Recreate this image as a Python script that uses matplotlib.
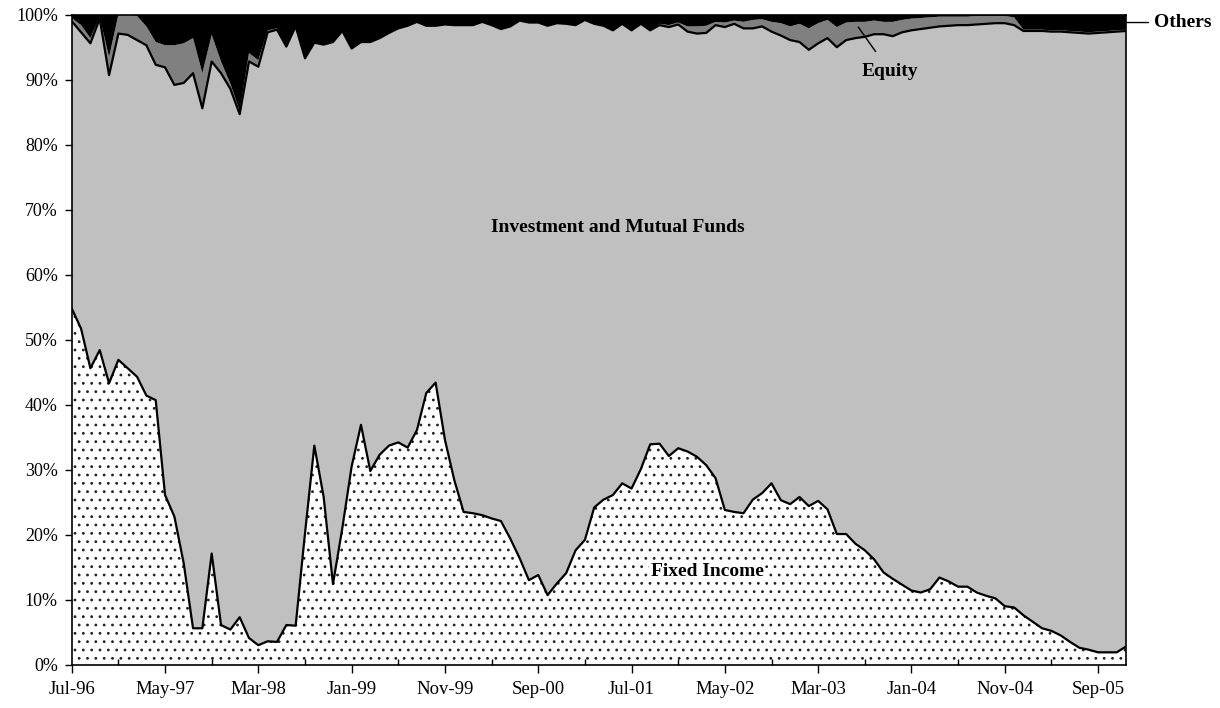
import matplotlib
matplotlib.use("Agg")
import matplotlib.pyplot as plt
from matplotlib.ticker import MultipleLocator, FuncFormatter
import numpy as np
import pandas as pd

# monthly shares (%), Jul-96 .. Dec-05
fixed_income = [
    54.8, 51.7, 45.6, 48.4, 43.3, 46.9, 45.6, 44.3, 41.4, 40.7,
    26.1, 22.8, 15.6, 5.6, 5.6, 17.1, 6.1, 5.4, 7.3, 4.1,
    3.0, 3.6, 3.5, 6.1, 6.0, 20.2, 33.7, 25.8, 12.4, 21.0,
    30.5, 36.9, 29.8, 32.3, 33.7, 34.2, 33.4, 36.1, 41.8, 43.4,
    34.6, 28.4, 23.5, 23.3, 23.0, 22.5, 22.1, 19.4, 16.4, 13.0,
    13.8, 10.7, 12.5, 14.1, 17.6, 19.2, 24.2, 25.4, 26.1, 27.9,
    27.1, 30.1, 33.9, 34.0, 32.1, 33.3, 32.8, 32.0, 30.7, 28.7,
    23.8, 23.5, 23.3, 25.4, 26.4, 27.9, 25.3, 24.7, 25.8, 24.4,
    25.2, 23.9, 20.1, 20.1, 18.6, 17.6, 16.2, 14.2, 13.2, 12.3,
    11.4, 11.1, 11.6, 13.4, 12.8, 12.0, 12.0, 11.1, 10.6, 10.2,
    9.0, 8.8, 7.6, 6.6, 5.6, 5.2, 4.5, 3.5, 2.6, 2.3,
    1.9, 1.9, 1.9, 2.8,
]
mutual_funds = [
    44.2, 45.6, 50.0, 51.0, 47.4, 50.2, 51.3, 51.8, 53.9, 51.6,
    65.8, 66.4, 73.9, 85.4, 80.0, 75.7, 84.9, 83.2, 77.4, 88.7,
    89.0, 93.7, 94.2, 89.0, 92.2, 73.1, 62.0, 69.6, 83.4, 76.5,
    64.3, 58.9, 66.0, 64.1, 63.5, 63.7, 64.9, 62.8, 56.5, 54.9,
    63.9, 70.0, 74.9, 75.1, 75.9, 75.9, 75.7, 78.8, 82.7, 85.8,
    85.0, 87.6, 86.2, 84.5, 80.8, 80.0, 74.4, 72.9, 71.5, 70.7,
    70.5, 68.5, 63.7, 64.4, 66.0, 65.2, 64.6, 65.1, 66.5, 69.7,
    74.3, 75.1, 74.6, 72.5, 71.8, 69.5, 71.5, 71.4, 70.0, 70.2,
    70.4, 72.5, 74.9, 76.0, 77.8, 79.0, 80.8, 82.8, 83.5, 85.0,
    86.2, 86.7, 86.4, 84.8, 85.5, 86.4, 86.4, 87.4, 88.0, 88.5,
    89.7, 89.6, 89.9, 90.9, 91.9, 92.2, 92.9, 93.8, 94.6, 94.8,
    95.3, 95.4, 95.5, 94.7,
]
equity = [
    0.5, 1.1, 0.8, 0.2, 2.8, 2.9, 3.1, 3.7, 2.9, 3.5,
    3.4, 6.1, 6.1, 5.4, 5.4, 4.1, 1.8, 0.8, 0.5, 1.3,
    1.0, 0.3, 0.2, 0.0, 0.0, 0.0, 0.0, 0.0, 0.0, 0.0,
    0.0, 0.0, 0.0, 0.0, 0.0, 0.0, 0.0, 0.0, 0.0, 0.0,
    0.0, 0.0, 0.0, 0.0, 0.0, 0.0, 0.0, 0.0, 0.0, 0.0,
    0.0, 0.0, 0.0, 0.0, 0.0, 0.0, 0.0, 0.0, 0.0, 0.0,
    0.0, 0.0, 0.0, 0.2, 0.3, 0.3, 0.8, 1.1, 1.1, 0.5,
    0.7, 0.5, 1.0, 1.3, 1.1, 1.5, 1.9, 2.1, 2.8, 3.3,
    3.1, 2.8, 3.1, 2.7, 2.5, 2.3, 2.1, 1.9, 2.2, 1.9,
    1.8, 1.7, 1.6, 1.5, 1.4, 1.3, 1.3, 1.3, 1.2, 1.1,
    1.1, 1.2, 0.2, 0.2, 0.2, 0.2, 0.2, 0.2, 0.2, 0.2,
    0.2, 0.2, 0.2, 0.2,
]
others = [
    0.5, 1.6, 3.6, 0.4, 6.5, 0.0, 0.0, 0.2, 1.8, 4.2,
    4.7, 4.7, 4.4, 3.6, 9.0, 3.1, 7.2, 10.6, 14.8, 5.9,
    7.0, 2.4, 2.1, 4.9, 1.8, 6.7, 4.3, 4.6, 4.2, 2.5,
    5.2, 4.2, 4.2, 3.6, 2.8, 2.1, 1.7, 1.1, 1.7, 1.7,
    1.5, 1.6, 1.6, 1.6, 1.1, 1.6, 2.2, 1.8, 0.9, 1.2,
    1.2, 1.7, 1.3, 1.4, 1.6, 0.8, 1.4, 1.7, 2.4, 1.4,
    2.4, 1.4, 2.4, 1.4, 1.6, 1.2, 1.8, 1.8, 1.7, 1.1,
    1.2, 0.9, 1.1, 0.8, 0.7, 1.1, 1.3, 1.8, 1.4, 2.1,
    1.3, 0.8, 1.9, 1.2, 1.1, 1.1, 0.9, 1.1, 1.1, 0.8,
    0.6, 0.5, 0.4, 0.3, 0.3, 0.3, 0.3, 0.2, 0.2, 0.2,
    0.2, 0.4, 2.3, 2.3, 2.3, 2.4, 2.4, 2.5, 2.6, 2.7,
    2.6, 2.5, 2.4, 2.3,
]

months = pd.date_range("1996-07-01", periods=len(fixed_income), freq="MS")
month_labels = [d.strftime("%b-%y") for d in months]

plt.rcParams["font.family"] = ["Liberation Serif", "DejaVu Serif"]
plt.rcParams["hatch.linewidth"] = 0.8
plt.rcParams["hatch.color"] = "#222222"

fig = plt.figure(figsize=(12.2, 7.08), dpi=100)
ax = fig.add_axes([0.0588, 0.0612, 0.8642, 0.9180])

x = np.arange(len(months))
fi = np.array(fixed_income)
top_mf = fi + np.array(mutual_funds)
top_eq = top_mf + np.array(equity)
top_ot = top_eq + np.array(others)

ax.fill_between(x, 0, fi, facecolor="white", edgecolor="none", hatch="..", lw=0)
ax.fill_between(x, fi, top_mf, facecolor="#c0c0c0", edgecolor="none", lw=0)
ax.fill_between(x, top_mf, top_eq, facecolor="#808080", edgecolor="none", lw=0)
ax.fill_between(x, top_eq, top_ot, facecolor="black", edgecolor="none", lw=0)
ax.plot(x, fi, color="black", lw=1.6)
ax.plot(x, top_mf, color="black", lw=1.6)

ax.set_xlim(0, len(months) - 1)
ax.set_ylim(0, 100)

ax.yaxis.set_major_locator(MultipleLocator(10))
ax.yaxis.set_major_formatter(FuncFormatter(lambda v, p: f"{v:.0f}%"))
ax.set_xticks(x[::10])
ax.set_xticklabels(month_labels[::10])
ax.set_xticks(x[5::10], minor=True)

ax.tick_params(axis="both", which="major", direction="out", length=5, width=1,
               labelsize=13, colors="black")
ax.tick_params(axis="x", which="major", length=6, pad=6, labelsize=13.5)
ax.tick_params(axis="x", which="minor", direction="in", length=4, width=1)
ax.tick_params(axis="y", which="major", pad=5)
for s in ax.spines.values():
    s.set_linewidth(1.2)
    s.set_color("black")

ax.text(58.5, 67.2, "Investment and Mutual Funds", ha="center", va="center",
        fontsize=14, fontweight="bold")
ax.text(68.1, 14.4, "Fixed Income", ha="center", va="center",
        fontsize=14, fontweight="bold",
        bbox=dict(facecolor="white", edgecolor="none", pad=1))
ax.annotate("Equity", xy=(84.3, 98.1), xytext=(87.7, 91.2), ha="center",
            va="center", fontsize=14, fontweight="bold",
            arrowprops=dict(arrowstyle="-", color="black", lw=1,
                            shrinkA=8, shrinkB=0))
ax.annotate("Others", xy=(113, 98.8), xytext=(116.0, 98.8), ha="left",
            va="center", fontsize=14, fontweight="bold", annotation_clip=False,
            arrowprops=dict(arrowstyle="-", color="black", lw=1,
                            shrinkA=2, shrinkB=0))

fig.savefig("out.png", dpi=100)
